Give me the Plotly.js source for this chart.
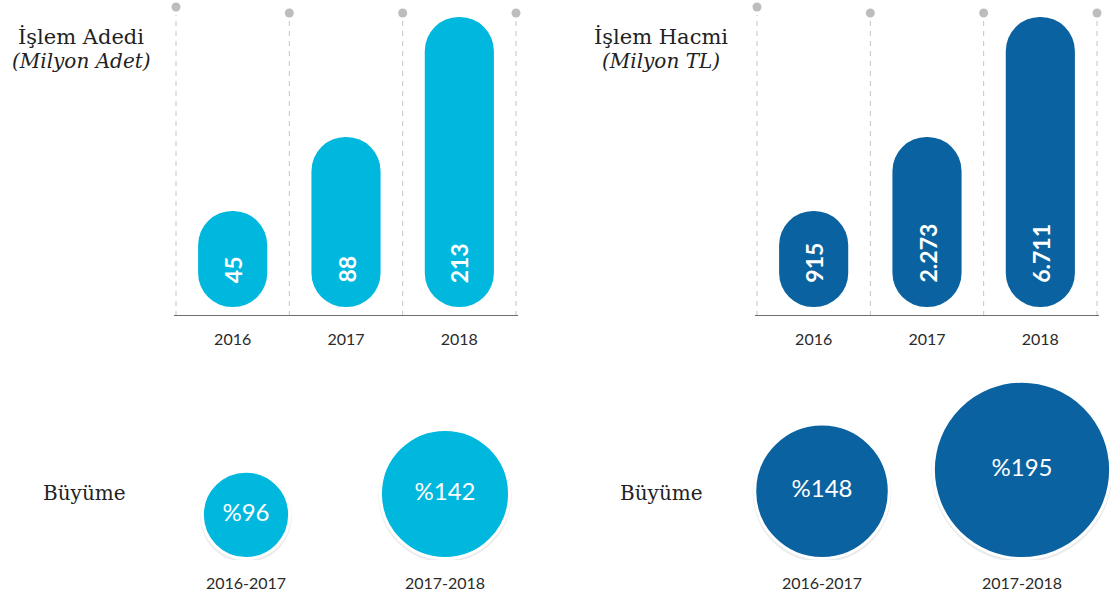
<!DOCTYPE html>
<html>
<head>
<meta charset="utf-8">
<script src="https://cdn.plot.ly/plotly-3.0.1.min.js"></script>
<style>html,body{margin:0;padding:0;background:#fff;}#chart{width:1111px;height:596px;}</style>
</head>
<body>
<div id="chart"></div>
<script>
// ---- data ----
const years = ['2016', '2017', '2018'];
const adetValues = [45, 88, 213];          // İşlem Adedi (Milyon Adet)
const hacimValues = [915, 2273, 6711];     // İşlem Hacmi (Milyon TL)
const barHeights = [96, 170, 290];         // drawn heights (infographic is not to scale)
const periods = ['2016-2017', '2017-2018'];
const adetGrowth = [96, 142];              // Büyüme %
const hacimGrowth = [148, 195];            // Büyüme %
const titles = ['İşlem Adedi', 'İşlem Hacmi'];
const subtitles = ['(Milyon Adet)', '(Milyon TL)'];
const growthLabel = 'Büyüme';

// ---- style ----
const W = 1111, H = 596;
const CYAN = '#00B7DE', BLUE = '#0B62A0';
const SANS = 'Lato, "Open Sans", sans-serif';
const SERIF = '"DejaVu Serif", serif';
const px = v => v / W;
const py = v => (H - v) / H;
const fmtTR = n => String(n).replace(/\B(?=(\d{3})+(?!\d))/g, '.');

const BAR_BOTTOM = 9;       // gap between baseline and bar bottom (axis units = px)
const BAR_WIDTH = 0.61;
const SIZEREF = 1.1;        // circle diameter = value / SIZEREF
const CIRCLE_BASE = 1.5;
const CAT_PX = 113.33;      // pixels per category in the bar panels
const PAD_PX = 12;          // extra room at the panel edges so dots are not clipped
const padR = PAD_PX / CAT_PX;

const traces = [];
const shapes = [];
const annotations = [];

function barPanel(xa, ya, values, color, labelFmt) {
  traces.push({type: 'bar', x: years, y: barHeights, base: BAR_BOTTOM, width: BAR_WIDTH, xaxis: xa, yaxis: ya,
    marker: {color: color, cornerradius: '50%', line: {width: 0}}, hoverinfo: 'skip', showlegend: false});
  const xr = 'x' + xa.slice(1);
  const yr = 'y' + ya.slice(1);
  values.forEach((v, i) => {
    annotations.push({xref: xr, yref: yr, x: i, y: 31, text: '<b>' + labelFmt(v) + '</b>', showarrow: false,
      textangle: -90, xanchor: 'center', yanchor: 'bottom',
      font: {family: SANS, size: 23, color: '#ffffff'}});
  });
  // dashed separators + dots
  [-0.5, 0.5, 1.5, 2.5].forEach((b, i) => {
    const top = i === 0 ? 301 : 296;
    const dotY = i === 0 ? 309 : 303;
    shapes.push({type: 'line', xref: xr, yref: yr, x0: b, x1: b, y0: 0, y1: top,
      line: {color: '#c4c4c4', width: 1, dash: '5px,5px'}, layer: 'below'});
    shapes.push({type: 'circle', xref: xr, yref: yr, xsizemode: 'pixel', ysizemode: 'pixel',
      xanchor: b, yanchor: dotY, x0: -4.5, x1: 4.5, y0: -4.5, y1: 4.5,
      fillcolor: '#bdbdbd', line: {width: 0}});
  });
  shapes.push({type: 'line', xref: xr, yref: yr, x0: -0.518, x1: 2.518, y0: 0, y1: 0,
    line: {color: '#6e6e6e', width: 2}});
}

function circlePanel(xa, ya, values, color) {
  const sizes = values.map(v => v / SIZEREF);
  const ys = sizes.map(s => CIRCLE_BASE + s / 2);
  traces.push({type: 'scatter', mode: 'markers', x: periods, y: ys.map(y => y - 1.8), xaxis: xa, yaxis: ya,
    marker: {size: sizes.map(s => s + 4), color: 'rgba(0,0,0,0.11)', line: {width: 0}},
    hoverinfo: 'skip', showlegend: false});
  traces.push({type: 'scatter', mode: 'markers+text', x: periods, y: ys, xaxis: xa, yaxis: ya,
    marker: {size: sizes, color: color, line: {color: '#ffffff', width: 3}, opacity: 1},
    text: values.map(v => '%' + v), textposition: 'middle center',
    textfont: {family: SANS, size: 24, color: '#ffffff'},
    hoverinfo: 'skip', showlegend: false});
}

barPanel('x', 'y', adetValues, CYAN, v => String(v));
barPanel('x2', 'y2', hacimValues, BLUE, fmtTR);
circlePanel('x3', 'y3', adetGrowth, CYAN);
circlePanel('x4', 'y4', hacimGrowth, BLUE);

// titles
const titleX = [81, 661];
titles.forEach((t, i) => {
  annotations.push({xref: 'paper', yref: 'paper', x: px(titleX[i]), y: py(37), text: t, showarrow: false,
    xanchor: 'center', yanchor: 'middle', font: {family: SERIF, size: 21, color: '#222222'}});
  annotations.push({xref: 'paper', yref: 'paper', x: px(titleX[i]), y: py(61), text: '<i>' + subtitles[i] + '</i>', showarrow: false,
    xanchor: 'center', yanchor: 'middle', font: {family: SERIF, size: 20, color: '#222222'}});
});
[84, 661].forEach(x => {
  annotations.push({xref: 'paper', yref: 'paper', x: px(x), y: py(493), text: growthLabel, showarrow: false,
    xanchor: 'center', yanchor: 'middle', font: {family: SERIF, size: 20, color: '#222222'}});
});

const catAxis = (domain, range, cats, anchor, fs) => ({
  domain: domain, range: range, type: 'category', categoryorder: 'array', categoryarray: cats,
  anchor: anchor, showgrid: false, zeroline: false, showline: false, ticks: '',
  ticklabelstandoff: 12, tickfont: {family: SANS, size: fs, color: '#2a2a2a'}, fixedrange: true
});
const valAxis = (domain, range, anchor) => ({
  domain: domain, range: range, anchor: anchor, visible: false, showgrid: false, zeroline: false, fixedrange: true
});

const layout = {
  width: W, height: H, margin: {l: 0, r: 0, t: 0, b: 0, pad: 0},
  paper_bgcolor: '#ffffff', plot_bgcolor: 'rgba(0,0,0,0)',
  barmode: 'overlay', showlegend: false,
  xaxis: catAxis([px(176 - PAD_PX), px(516 + PAD_PX)], [-0.5 - padR, 2.5 + padR], years, 'y', 16),
  yaxis: valAxis([py(316), 1], [0, 316], 'x'),
  xaxis2: catAxis([px(757 - PAD_PX), px(1097 + PAD_PX)], [-0.5 - padR, 2.5 + padR], years, 'y2', 16),
  yaxis2: valAxis([py(316), 1], [0, 316], 'x2'),
  xaxis3: catAxis([px(146.5), px(544.5)], [-0.5, 1.5], periods, 'y3', 16),
  yaxis3: valAxis([py(560), py(375)], [0, 185], 'x3'),
  xaxis4: catAxis([px(722), 1], [-0.5, 1.445], periods, 'y4', 16),
  yaxis4: valAxis([py(560), py(375)], [0, 185], 'x4'),
  shapes: shapes,
  annotations: annotations
};

Plotly.newPlot('chart', traces, layout, {staticPlot: true, displayModeBar: false});
</script>
</body>
</html>
